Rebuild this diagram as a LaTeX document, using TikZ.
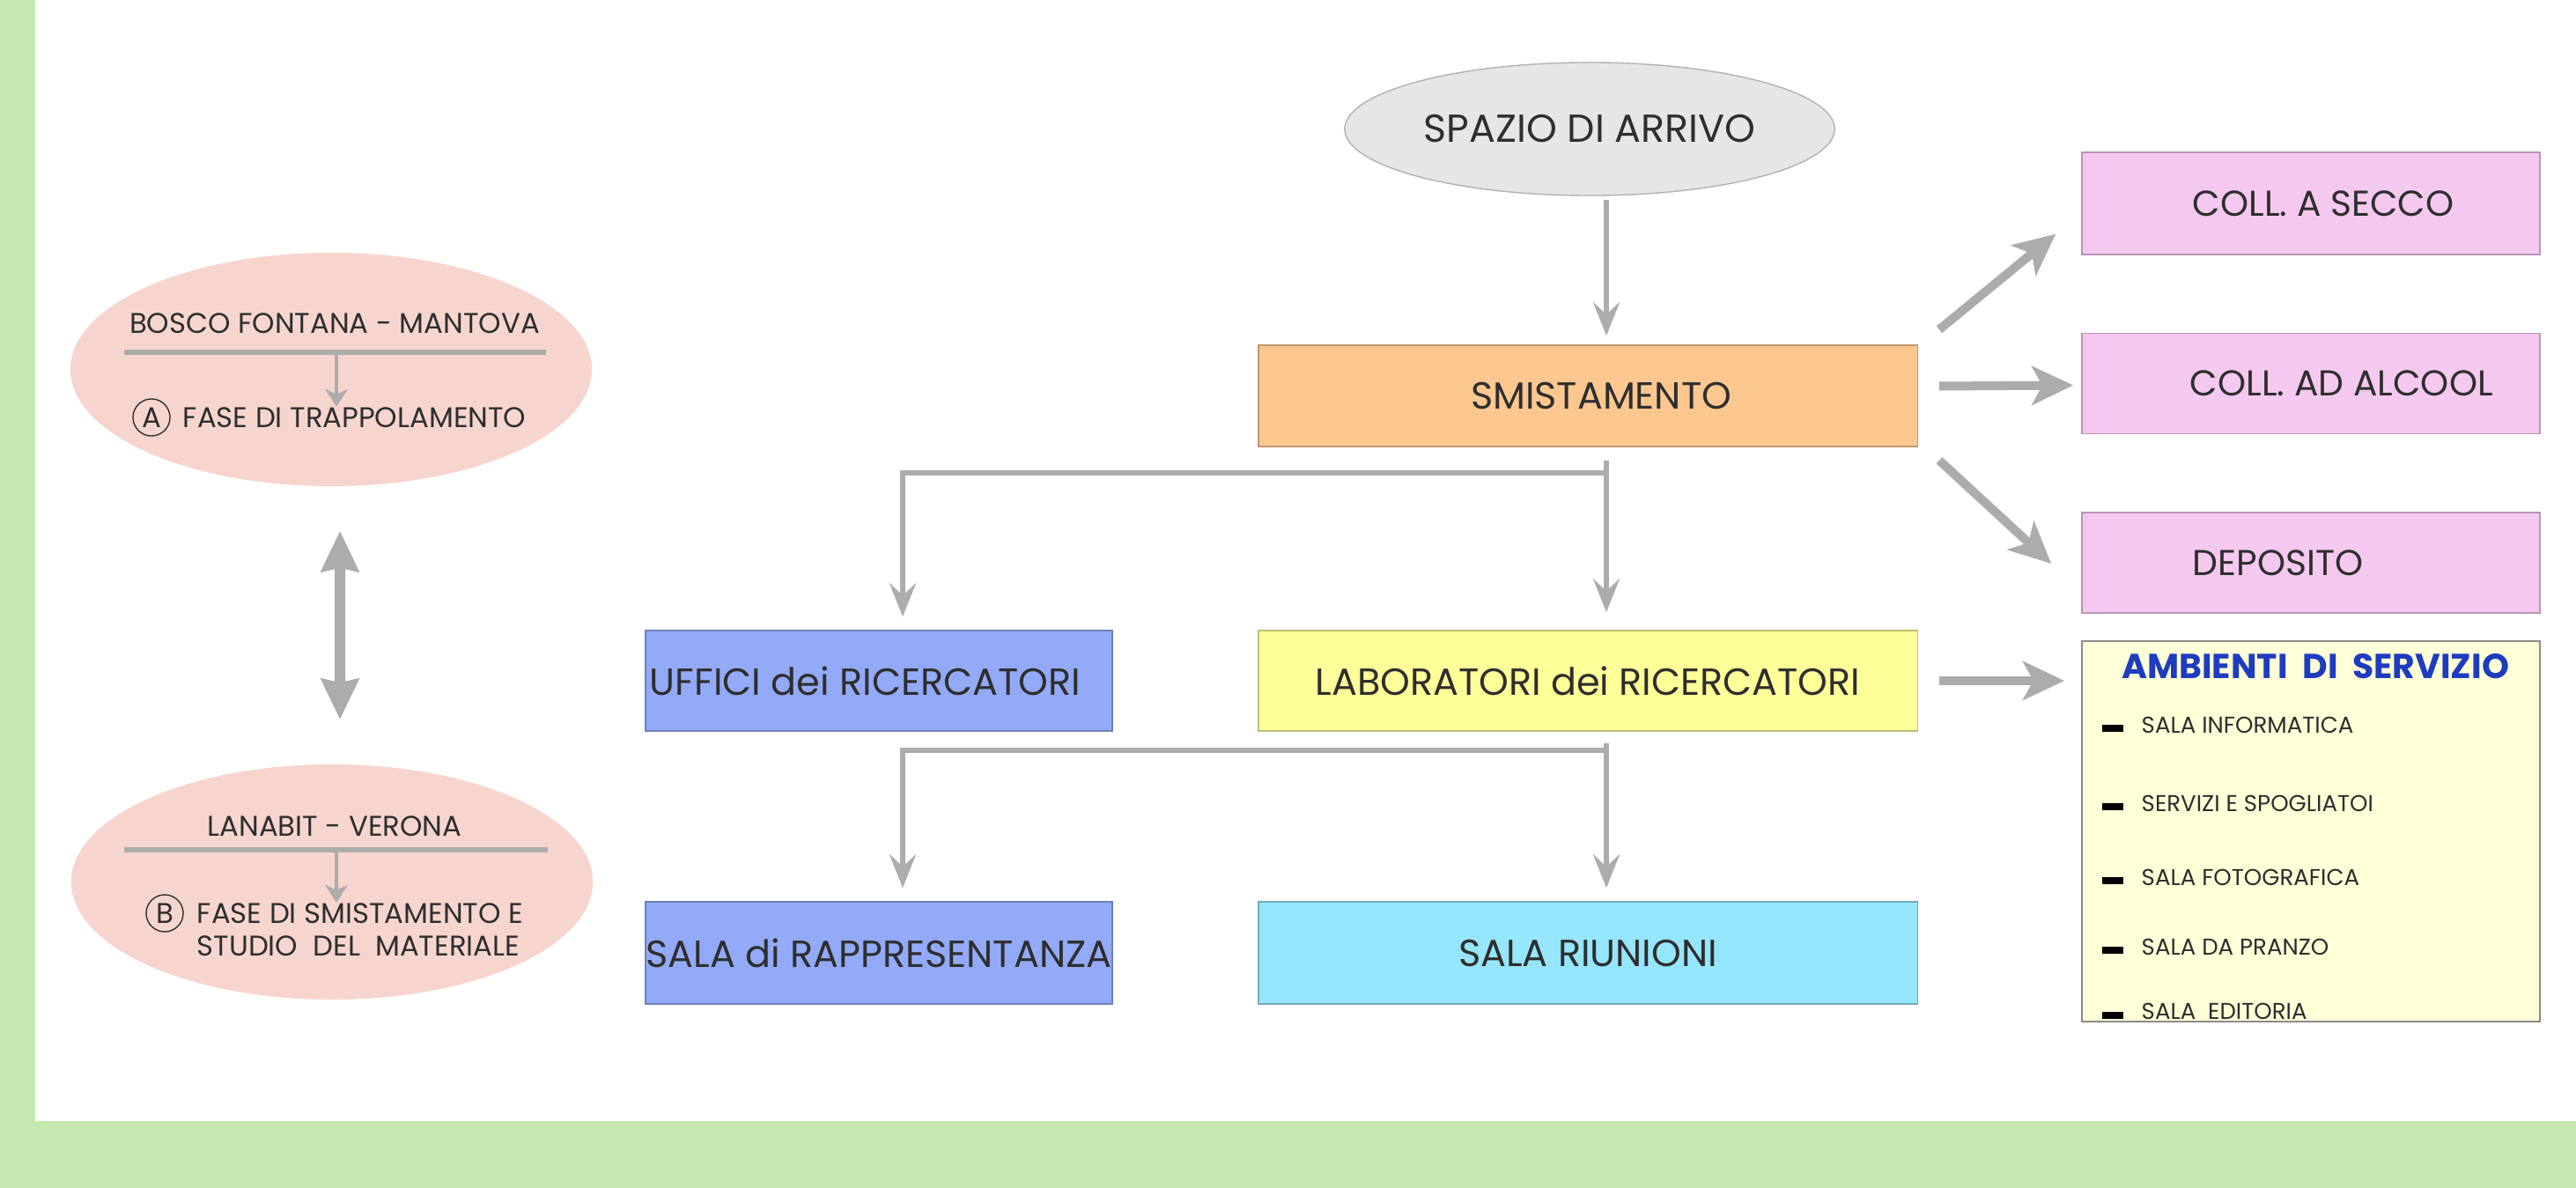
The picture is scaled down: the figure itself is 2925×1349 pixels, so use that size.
\documentclass[tikz,border=0pt]{standalone}
\usepackage{fontspec}
\setmainfont{Poppins}
\usetikzlibrary{arrows.meta,shapes.geometric,calc}
\definecolor{greenbg}{HTML}{C7E9AF}
\definecolor{pinkell}{HTML}{F7D5CF}
\definecolor{grayell}{HTML}{E6E6E6}
\definecolor{orangebox}{HTML}{FDC890}
\definecolor{pinkbox}{HTML}{F4C8EF}
\definecolor{bluebox}{HTML}{93AAF8}
\definecolor{yellowbox}{HTML}{FFFF99}
\definecolor{cyanbox}{HTML}{96E6FD}
\definecolor{creambox}{HTML}{FFFFD8}
\definecolor{titleblue}{HTML}{1E3CC0}
\definecolor{arrowgray}{HTML}{ACACAC}
\definecolor{txt}{HTML}{2E2E2E}
\newcommand\fsMain{\fontsize{12.2}{14}\selectfont}
\newcommand\fsPink{\fontsize{11.6}{14}\selectfont}
\newcommand\fsSpazio{\fontsize{12.6}{15}\selectfont}
\newcommand\fsEll{\fontsize{9.2}{11}\selectfont}
\newcommand\fsItem{\fontsize{7.4}{9}\selectfont}
\newcommand\fsTitle{\fontsize{11.2}{13}\selectfont\bfseries}
\begin{document}
\begin{tikzpicture}[x=0.01cm,y=-0.01cm,
  every node/.style={text=txt, inner sep=0pt},
  rbox/.style={rectangle, draw=#1!75!black, line width=0.4pt, fill=#1, font=\fsMain},
  conn/.style={draw=arrowgray, line width=0.06cm, -{Stealth[length=0.38cm,width=0.3cm,inset=0.14cm]}},
  bigarrow/.style={draw=arrowgray, line width=0.1cm, -{Stealth[length=0.47cm,width=0.44cm,inset=0.12cm]}},
  dblarrow/.style={draw=arrowgray, line width=0.12cm, {Stealth[length=0.46cm,width=0.42cm,inset=0.04cm]}-{Stealth[length=0.46cm,width=0.42cm,inset=0.04cm]}},
  smallarrow/.style={draw=arrowgray, line width=0.045cm, -{Stealth[length=0.2cm,width=0.26cm,inset=0.06cm]}},
  divider/.style={draw=arrowgray, line width=0.06cm},
  pinkellipse/.style={ellipse, fill=pinkell, minimum width=5.92cm, minimum height=2.65cm},
  elltext/.style={font=\fsEll},
  letter/.style={circle, draw=txt, line width=0.4pt, minimum size=0.42cm, font=\fsEll},
  itemtext/.style={font=\fsItem, anchor=west},
  bullet/.style={rectangle, fill=black, minimum width=0.24cm, minimum height=0.08cm}
]
% background and margins
\fill[white] (0,0) rectangle (2925,1349);
\useasboundingbox (0,0) rectangle (2925,1349);
\fill[greenbg] (0,0) rectangle (40,1349);
\fill[greenbg] (0,1273) rectangle (2925,1349);

% ---------- left ellipses ----------
\node[pinkellipse] (bosco) at (376,419.5) {};
\node[elltext] (boscoT) at (380,367) {BOSCO FONTANA - MANTOVA};
\coordinate (bl1) at (141,400);
\coordinate (br1) at (620,400);
\draw[divider] (bl1) -- (br1);
\node[letter] (cA) at (172,474) {A};
\node[elltext, anchor=west] (faseA) at (207,474) {FASE DI TRAPPOLAMENTO};
\coordinate (sa1) at (382,400);
\draw[smallarrow] (sa1) -- (sa1 |- faseA.north);

\node[pinkellipse, minimum height=2.67cm] (lanabit) at (377,1001.5) {};
\node[elltext] (lanabitT) at (380,938) {LANABIT - VERONA};
\coordinate (bl2) at (141,965);
\coordinate (br2) at (622,965);
\draw[divider] (bl2) -- (br2);
\node[letter] (cB) at (187,1037) {B};
\node[elltext, anchor=west] (faseB) at (223,1037) {FASE DI SMISTAMENTO E};
\node[elltext, anchor=west] (studio) at (223,1074) {STUDIO\ \ DEL\ \ MATERIALE};
\coordinate (sa2) at (382,965);
\draw[smallarrow] (sa2) -- (sa2 |- faseB.north);

\draw[dblarrow, shorten <=0.5cm, shorten >=0.5cm] ([xshift=0.1cm]bosco.south) -- ([xshift=0.09cm]lanabit.north);

% ---------- central flow ----------
\node[ellipse, draw=black!30, line width=0.4pt, fill=grayell, minimum width=5.56cm, minimum height=1.51cm, font=\fsSpazio] (spazio) at (1805,146.5) {SPAZIO DI ARRIVO};
\node[rbox=orangebox, minimum width=7.48cm, minimum height=1.15cm] (smist) at (1803,449.5) {\hspace*{0.3cm}SMISTAMENTO};
\node[rbox=yellowbox, minimum width=7.48cm, minimum height=1.14cm] (lab) at (1803,773) {LABORATORI dei RICERCATORI};
\node[rbox=cyanbox, minimum width=7.48cm, minimum height=1.16cm] (riun) at (1803,1082) {SALA RIUNIONI};
\node[rbox=bluebox, minimum width=5.3cm, minimum height=1.14cm] (uff) at (998,773) {};
\node[font=\fsMain, anchor=west] (uffT) at ($(uff.west)+(5,0)$) {UFFICI dei RICERCATORI};
\node[rbox=bluebox, minimum width=5.3cm, minimum height=1.16cm] (rapp) at (998,1082) {SALA di RAPPRESENTANZA};

\coordinate (cx) at (1824,0);
\coordinate (lx) at (1025,0);
\draw[conn, shorten <=0.04cm, shorten >=0.1cm] (spazio.south -| cx) -- (smist.north -| cx);
% first branching
\coordinate (j1) at (1824,537);
\draw[conn, shorten <=0.15cm, shorten >=0.2cm] (smist.south -| cx) -- (lab.north -| cx);
\draw[conn, shorten >=0.15cm] (j1) -| (uff.north -| lx);
% second branching
\coordinate (j2) at (1824,852);
\draw[conn, shorten <=0.13cm, shorten >=0.15cm] (lab.south -| cx) -- (riun.north -| cx);
\draw[conn, shorten >=0.15cm] (j2) -| (rapp.north -| lx);

% ---------- right column ----------
\node[rbox=pinkbox, minimum width=5.2cm, minimum height=1.16cm] (secco) at (2624,231) {};
\node[font=\fsPink, anchor=west] (seccoT) at ($(secco.west)+(126,0)$) {COLL. A SECCO};
\node[rbox=pinkbox, minimum width=5.2cm, minimum height=1.14cm] (alcool) at (2624,435.5) {};
\node[font=\fsPink, anchor=west] (alcoolT) at ($(alcool.west)+(123,0)$) {COLL. AD ALCOOL};
\node[rbox=pinkbox, minimum width=5.2cm, minimum height=1.14cm] (depo) at (2624,639) {};
\node[font=\fsPink, anchor=west] (depoT) at ($(depo.west)+(126,0)$) {DEPOSITO};

\draw[bigarrow] ($(smist.north east)+(24,-17)$) -- ($(secco.south west)+(-29,-24)$);
\draw[bigarrow] ($(smist.east)+(24,-11)$) -- ($(alcool.west)+(-9,2)$);
\draw[bigarrow] ($(smist.south east)+(24,15)$) -- ($(depo.west)+(-34,1)$);

\node[rectangle, draw=black!45, line width=0.5pt, fill=creambox, minimum width=5.2cm, minimum height=4.32cm] (amb) at (2624,944) {};
\node[font=\fsTitle, text=titleblue] (ambT) at (2629,757) {AMBIENTI\ \ DI\ \ SERVIZIO};
\draw[bigarrow, shorten <=0.24cm, shorten >=0.19cm] (lab.east) -- (lab.east -| amb.west);

\node[bullet] (b1) at (2399,827) {};
\node[itemtext] (i1) at (2431,823) {SALA INFORMATICA};
\node[bullet] (b2) at (2399,916) {};
\node[itemtext] (i2) at (2431,912) {SERVIZI E SPOGLIATOI};
\node[bullet] (b3) at (2399,1000) {};
\node[itemtext] (i3) at (2431,996) {SALA FOTOGRAFICA};
\node[bullet] (b4) at (2399,1079) {};
\node[itemtext] (i4) at (2431,1075) {SALA DA PRANZO};
\node[bullet] (b5) at (2399,1153) {};
\node[itemtext] (i5) at (2431,1148) {SALA\ \ EDITORIA};
\end{tikzpicture}
\end{document}
